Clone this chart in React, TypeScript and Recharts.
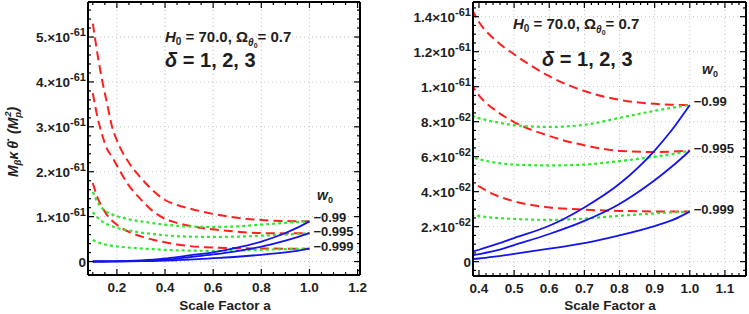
import React from 'react';
import { LineChart, Line, XAxis, YAxis, CartesianGrid, ReferenceDot } from 'recharts';

// values in units of 1e-62
const SCALE_A = [0.1, 0.12, 0.14, 0.16, 0.18, 0.2, 0.25, 0.3, 0.35, 0.4, 0.45, 0.5, 0.6, 0.7, 0.8, 0.9, 0.95, 1.0];

const RED_1 = [53, 46, 40, 35, 30, 27, 22, 18.6, 15.8, 13.7, 12.6, 11.85, 10.6, 9.75, 9.25, 9.02, 8.97, 8.95];
const RED_2 = [37.5, 32, 28, 25, 23.3, 21.4, 16.9, 13.8, 11.2, 9.5, 8.6, 7.98, 7.18, 6.65, 6.33, 6.27, 6.29, 6.34];
const RED_3 = [17.5, 14.2, 12.0, 10.3, 9.1, 8.2, 6.6, 5.6, 4.85, 4.3, 3.78, 3.45, 3.1, 2.97, 2.9, 2.87, 2.86, 2.86];

const GREEN_1 = [15.5, 13.2, 11.8, 11.0, 10.5, 10.1, 9.4, 8.95, 8.55, 8.2, 7.97, 7.8, 7.7, 7.82, 8.22, 8.62, 8.8, 8.95];
const GREEN_2 = [11.0, 9.8, 8.9, 8.3, 7.85, 7.5, 6.9, 6.45, 6.12, 5.85, 5.65, 5.55, 5.5, 5.55, 5.75, 6.0, 6.15, 6.34];
const GREEN_3 = [4.8, 4.3, 3.95, 3.7, 3.5, 3.35, 3.1, 2.9, 2.75, 2.6, 2.5, 2.44, 2.39, 2.46, 2.62, 2.76, 2.82, 2.86];

const BLUE_1 = [0.01, 0.015, 0.02, 0.03, 0.045, 0.06, 0.13, 0.25, 0.42, 0.68, 1.0, 1.35, 2.05, 3.1, 4.45, 6.35, 7.55, 8.95];
const BLUE_2 = [0.005, 0.008, 0.012, 0.018, 0.027, 0.038, 0.09, 0.16, 0.26, 0.43, 0.64, 0.95, 1.58, 2.33, 3.3, 4.65, 5.45, 6.34];
const BLUE_3 = [0.002, 0.004, 0.006, 0.009, 0.013, 0.018, 0.04, 0.07, 0.11, 0.18, 0.3, 0.44, 0.74, 1.06, 1.5, 2.03, 2.37, 2.86];

const W0_LABELS = ['\u22120.99', '\u22120.995', '\u22120.999'];

const LEFT_X_MAJOR = [0.2, 0.4, 0.6, 0.8, 1.0, 1.2];
const LEFT_X_LABELS = ['0.2', '0.4', '0.6', '0.8', '1.0', '1.2'];
const LEFT_Y_MAJOR = [0, 10, 20, 30, 40, 50];
const LEFT_Y_MANT = ['0', '1.', '2.', '3.', '4.', '5.'];
const LEFT_Y_EXP = ['', '-61', '-61', '-61', '-61', '-61'];

const RIGHT_X_MAJOR = [0.4, 0.5, 0.6, 0.7, 0.8, 0.9, 1.0, 1.1];
const RIGHT_X_LABELS = ['0.4', '0.5', '0.6', '0.7', '0.8', '0.9', '1.0', '1.1'];
const RIGHT_Y_MAJOR = [0, 2, 4, 6, 8, 10, 12, 14];
const RIGHT_Y_MANT = ['0', '2.', '4.', '6.', '8.', '1.', '1.2', '1.4'];
const RIGHT_Y_EXP = ['', '-62', '-62', '-62', '-62', '-61', '-61', '-61'];

const ROWS = SCALE_A.map((a, i) => ({
  a,
  r1: RED_1[i], r2: RED_2[i], r3: RED_3[i],
  g1: GREEN_1[i], g2: GREEN_2[i], g3: GREEN_3[i],
  b1: BLUE_1[i], b2: BLUE_2[i], b3: BLUE_3[i],
}));

const FONT = '"Liberation Sans", Arial, Helvetica, sans-serif';
const RED = '#ff1f1f';
const GREEN = '#2ee82e';
const BLUE = '#1414f0';
const INK = '#1e1e1e';

function steps(from: number, to: number, step: number) {
  const out: number[] = [];
  for (let i = 0; from + i * step <= to + 1e-9; i++) out.push(+(from + i * step).toFixed(4));
  return out;
}

const isIn = (list: number[], v: number) => list.findIndex((m) => Math.abs(m - v) < 1e-6);

type PanelCfg = {
  left: number;
  width: number;
  yWidth: number;
  rWidth: number;
  bottom: number;
  xDomain: [number, number];
  yDomain: [number, number];
  xMajor: number[];
  xLabels: string[];
  xMinorStep: number;
  yMajor: number[];
  yMant: string[];
  yExp: string[];
  yMinorStep: number;
};

function Panel({ cfg }: { cfg: PanelCfg }) {
  const [x0, x1] = cfg.xDomain;
  const [y0, y1] = cfg.yDomain;
  const xTicks = steps(Math.ceil(x0 / cfg.xMinorStep) * cfg.xMinorStep, x1, cfg.xMinorStep).filter((v) => v > x0 + 1e-4 && v < x1 - 1e-4);
  const yTicks = steps(Math.ceil(y0 / cfg.yMinorStep) * cfg.yMinorStep, y1, cfg.yMinorStep).filter((v) => v > y0 + 1e-4 && v < y1 - 1e-4);

  const xTick = (side: 'bottom' | 'top') => (props: any) => {
    const { x, y, payload } = props;
    const k = isIn(cfg.xMajor, payload.value);
    const len = k >= 0 ? 6 : 3;
    const dir = side === 'bottom' ? -1 : 1;
    return (
      <g>
        <line x1={x} x2={x} y1={y} y2={y + dir * len} stroke="#000" strokeWidth={1.2} />
        {side === 'bottom' && k >= 0 && (
          <text x={x} y={y + 17} textAnchor="middle" fontSize={13.5} fontWeight="bold" fontFamily={FONT} fill={INK}>
            {cfg.xLabels[k]}
          </text>
        )}
      </g>
    );
  };

  const yTick = (side: 'left' | 'right') => (props: any) => {
    const { x, y, payload } = props;
    const k = isIn(cfg.yMajor, payload.value);
    const len = k >= 0 ? 6 : 3;
    const dir = side === 'left' ? 1 : -1;
    return (
      <g>
        <line x1={x} x2={x + dir * len} y1={y} y2={y} stroke="#000" strokeWidth={1.2} />
        {side === 'left' && k >= 0 && (
          <text x={x - 2} y={y + 5} textAnchor="end" fontSize={13.5} fontWeight="bold" fontFamily={FONT} fill={INK}>
            {cfg.yMant[k]}
            {cfg.yExp[k] && (
              <>
                {'\u00d710'}
                <tspan fontSize={11} dy={-6}>{cfg.yExp[k]}</tspan>
              </>
            )}
          </text>
        )}
      </g>
    );
  };

  const endLabel = (text: string, dy: number) => (props: any) => (
    <text x={props.cx + 4} y={props.cy + dy} fontSize={13} fontWeight="bold" fontFamily={FONT} fill={INK}>
      {text}
    </text>
  );

  const axisLine = { stroke: '#000', strokeWidth: 2 };
  const last = SCALE_A.length - 1;

  return (
    <div style={{ position: 'absolute', left: cfg.left, top: 0 }}>
      <LineChart width={cfg.width} height={314} data={ROWS} margin={{ top: 0, right: 0, bottom: 0, left: 0 }}>
        <CartesianGrid
          stroke="#c4c4c4"
          strokeDasharray="1 3"
          verticalValues={cfg.xMajor}
          horizontalValues={cfg.yMajor}
        />
        <XAxis
          xAxisId={0}
          dataKey="a"
          type="number"
          domain={cfg.xDomain}
          allowDataOverflow
          ticks={xTicks}
          interval={0}
          tickSize={0}
          tickMargin={0}
          tickLine={false}
          axisLine={axisLine}
          height={cfg.bottom}
          tick={xTick('bottom')}
        />
        <XAxis
          xAxisId="t"
          orientation="top"
          dataKey="a"
          type="number"
          domain={cfg.xDomain}
          allowDataOverflow
          ticks={xTicks}
          interval={0}
          tickSize={0}
          tickMargin={0}
          tickLine={false}
          axisLine={axisLine}
          height={2}
          tick={xTick('top')}
        />
        <YAxis
          yAxisId={0}
          type="number"
          domain={cfg.yDomain}
          allowDataOverflow
          ticks={yTicks}
          interval={0}
          tickSize={0}
          tickMargin={0}
          tickLine={false}
          axisLine={axisLine}
          width={cfg.yWidth}
          tick={yTick('left')}
        />
        <YAxis
          yAxisId="r"
          orientation="right"
          type="number"
          domain={cfg.yDomain}
          allowDataOverflow
          ticks={yTicks}
          interval={0}
          tickSize={0}
          tickMargin={0}
          tickLine={false}
          axisLine={axisLine}
          width={cfg.rWidth}
          tick={yTick('right')}
        />
        <Line type="monotone" dataKey="r1" stroke={RED} strokeWidth={2} strokeDasharray="9 5" dot={false} isAnimationActive={false} />
        <Line type="monotone" dataKey="r2" stroke={RED} strokeWidth={2} strokeDasharray="9 5" dot={false} isAnimationActive={false} />
        <Line type="monotone" dataKey="r3" stroke={RED} strokeWidth={2} strokeDasharray="9 5" dot={false} isAnimationActive={false} />
        <Line type="monotone" dataKey="g1" stroke={GREEN} strokeWidth={2.2} strokeDasharray="3 3" dot={false} isAnimationActive={false} />
        <Line type="monotone" dataKey="g2" stroke={GREEN} strokeWidth={2.2} strokeDasharray="3 3" dot={false} isAnimationActive={false} />
        <Line type="monotone" dataKey="g3" stroke={GREEN} strokeWidth={2.2} strokeDasharray="3 3" dot={false} isAnimationActive={false} />
        <Line type="monotone" dataKey="b1" stroke={BLUE} strokeWidth={1.8} dot={false} isAnimationActive={false} />
        <Line type="monotone" dataKey="b2" stroke={BLUE} strokeWidth={1.8} dot={false} isAnimationActive={false} />
        <Line type="monotone" dataKey="b3" stroke={BLUE} strokeWidth={1.8} dot={false} isAnimationActive={false} />
        <ReferenceDot x={SCALE_A[last]} y={BLUE_1[last]} r={0} shape={endLabel(W0_LABELS[0], 0.5)} />
        <ReferenceDot x={SCALE_A[last]} y={BLUE_2[last]} r={0} shape={endLabel(W0_LABELS[1], 2.5)} />
        <ReferenceDot x={SCALE_A[last]} y={BLUE_3[last]} r={0} shape={endLabel(W0_LABELS[2], 2.5)} />
      </LineChart>
    </div>
  );
}

const LEFT_CFG: PanelCfg = {
  left: 0, width: 375, yWidth: 88, rWidth: 15, bottom: 39,
  xDomain: [0.08, 1.21], yDomain: [-3, 57.8],
  xMajor: LEFT_X_MAJOR, xLabels: LEFT_X_LABELS, xMinorStep: 0.05,
  yMajor: LEFT_Y_MAJOR, yMant: LEFT_Y_MANT, yExp: LEFT_Y_EXP, yMinorStep: 2,
};

const RIGHT_CFG: PanelCfg = {
  left: 375, width: 374, yWidth: 98, rWidth: 3, bottom: 38,
  xDomain: [0.383, 1.16], yDomain: [-0.82, 14.84],
  xMajor: RIGHT_X_MAJOR, xLabels: RIGHT_X_LABELS, xMinorStep: 0.02,
  yMajor: RIGHT_Y_MAJOR, yMant: RIGHT_Y_MANT, yExp: RIGHT_Y_EXP, yMinorStep: 0.5,
};

function Params({ x, y }: { x: number; y: number }) {
  return (
    <text x={x} y={y} fontSize={15} fontWeight="bold" fontFamily={FONT} fill={INK}>
      <tspan fontStyle="italic">H</tspan>
      <tspan fontSize={10} dy={3}>0</tspan>
      <tspan dy={-3}>{' = 70.0, \u03a9'}</tspan>
      <tspan fontSize={10} fontStyle="italic" dy={4}>{'\u03b8'}</tspan>
      <tspan fontSize={7} dy={2}>0</tspan>
      <tspan dy={-6}>{'= 0.7'}</tspan>
    </text>
  );
}

function Delta({ x, y }: { x: number; y: number }) {
  return (
    <text x={x} y={y} fontSize={20} fontWeight="bold" fontFamily={FONT} fill={INK}>
      <tspan fontStyle="italic">{'\u03b4'}</tspan>
      <tspan>{' = 1, 2, 3'}</tspan>
    </text>
  );
}

function W0({ x, y }: { x: number; y: number }) {
  return (
    <text x={x} y={y} fontSize={14} fontWeight="bold" fontFamily={FONT} fill={INK}>
      <tspan fontStyle="italic">w</tspan>
      <tspan fontSize={9} dy={3}>0</tspan>
    </text>
  );
}

export default function App() {
  return (
    <div style={{ position: 'absolute', left: 0, top: 0, width: 749, height: 314, background: '#fff' }}>
      <Panel cfg={LEFT_CFG} />
      <Panel cfg={RIGHT_CFG} />
      <svg width={749} height={314} style={{ position: 'absolute', left: 0, top: 0, pointerEvents: 'none' }}>
        <text transform="translate(18,142) rotate(-90)" textAnchor="middle" fontSize={14} fontWeight="bold" fontStyle="italic" fontFamily={FONT} fill={INK}>
          <tspan>M</tspan>
          <tspan fontSize={9.5} dy={3}>{'\u03b2'}</tspan>
          <tspan dy={-3}>{'\u03ba\u2009\u03b8\u0307'}</tspan>
          <tspan dx={7}>(M</tspan>
          <tspan fontSize={9.5} dy={3}>p</tspan>
          <tspan fontSize={9.5} dx={-5} dy={-10}>2</tspan>
          <tspan dy={7}>)</tspan>
        </text>
        <Params x={165} y={42} />
        <Delta x={165} y={67} />
        <W0 x={317} y={200} />
        <text x={225} y={310} textAnchor="middle" fontSize={13.5} fontWeight="bold" fontFamily={FONT} fill={INK}>Scale Factor a</text>
        <Params x={513} y={29} />
        <Delta x={542} y={66} />
        <W0 x={702} y={74} />
        <text x={610} y={310} textAnchor="middle" fontSize={13.5} fontWeight="bold" fontFamily={FONT} fill={INK}>Scale Factor a</text>
      </svg>
    </div>
  );
}
